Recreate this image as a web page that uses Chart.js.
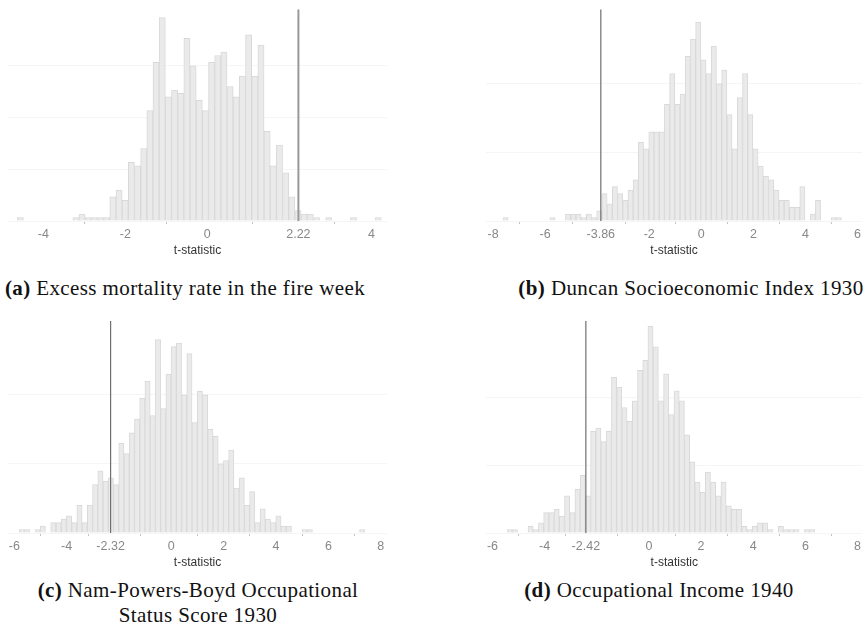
<!DOCTYPE html>
<html>
<head>
<meta charset="utf-8">
<script src="https://cdn.jsdelivr.net/npm/chart.js@4.4.1/dist/chart.umd.min.js"></script>
<style>
  body { margin: 0; background: #fff; width: 864px; height: 626px; position: relative; overflow: hidden; }
  canvas { position: absolute; }
  .cap { position: absolute; transform: translateX(-50%); font-family: "Liberation Serif", "Times New Roman", serif;
         font-size: 21px; letter-spacing: 0.4px; line-height: 25px; color: #111; text-align: center; white-space: nowrap; }
</style>
</head>
<body>
<canvas id="ca" width="432" height="257" style="left:0;top:0"></canvas>
<canvas id="cb" width="432" height="257" style="left:432px;top:0"></canvas>
<canvas id="cc" width="432" height="257" style="left:0;top:312px"></canvas>
<canvas id="cd" width="432" height="257" style="left:432px;top:312px"></canvas>

<div class="cap" style="left:185px;top:276px"><b>(a)</b> Excess mortality rate in the fire week</div>
<div class="cap" style="left:691px;top:276px"><b>(b)</b> Duncan Socioeconomic Index 1930</div>
<div class="cap" style="left:198px;top:578px"><b>(c)</b> Nam-Powers-Boyd Occupational<br>Status Score 1930</div>
<div class="cap" style="left:659px;top:578px"><b>(d)</b> Occupational Income 1940</div>

<script>
// histogram bins: first bin edge, bin width, counts per bin
const startA = -4.634, widthA = 0.1504;
const countsA = [1,0,0,0,0,0,0,0,0,1,2,1,1,1,1,7,9,6,17,16,21,32,46,59,36,38,37,53,45,35,
                 32,46,48,49,39,36,42,54,42,51,26,16,22,14,7,3,2,2,1,0,1,0,0,0,1,0,0,0,1];
const ticksA = [-4, -2, 0, 2.22, 4];
const tStatA = 2.22;

const startB = -7.618, widthB = 0.2;
const countsB = [1,0,0,0,0,0,0,0,0,1,0,0,2,2,2,1,2,1,3,8,5,10,8,6,9,12,23,21,26,26,
                 26,34,43,34,37,48,53,58,47,43,51,40,44,31,21,36,43,31,21,16,13,12,9,6,6,4,4,10,0,2,
                 6,0,0,1,1];
const ticksB = [-8, -6, -3.86, -2, 0, 2, 4, 6];
const tStatB = -3.86;

const startC = -5.809, widthC = 0.2;
const countsC = [1,1,0,1,2,0,3,3,4,5,3,8,3,8,14,18,15,16,14,26,23,29,33,39,44,34,56,36,46,54,
                 55,40,52,32,41,40,30,28,20,21,24,13,16,8,12,3,7,4,3,5,2,2,0,0,1,1,0,0,0,0,
                 0,0,0,0,0,1];
const ticksC = [-6, -4, -2.32, 0, 2, 4, 6, 8];
const tStatC = -2.32;

const startD = -5.439, widthD = 0.2;
const countsD = [1,1,0,0,2,1,3,6,6,7,5,11,6,13,17,11,30,31,27,30,46,43,37,33,39,48,51,61,55,39,
                 47,35,42,39,29,21,15,12,18,15,11,15,8,7,7,2,1,2,3,3,1,0,2,1,1,1,0,1,1];
const ticksD = [-6, -4, -2.42, 0, 2, 4, 6, 8];
const tStatD = -2.42;

Chart.defaults.font.family = '"Liberation Sans", Arial, sans-serif';
Chart.defaults.animation = false;

function histogram(id, start, width, counts, tickVals, tStat, xMin, xMax, yMax, yStep, pad, lineColor, lineWidth) {
    let bars = counts.map((c, i) => ({ x: start + (i + 0.5) * width, y: c > 0 ? c : null }));
    new Chart(document.getElementById(id), {
        type: "bar",
        data: {
            datasets: [{
                type: "line",
                data: [{ x: tStat, y: 0 }, { x: tStat, y: yMax }],
                borderColor: lineColor,
                borderWidth: lineWidth,
                pointRadius: 0,
                order: 0
            }, {
                data: bars,
                backgroundColor: "#eaeaea",
                borderColor: "#d9d9d9",
                borderWidth: 1,
                barPercentage: 1,
                categoryPercentage: 1,
                order: 1
            }]
        },
        options: {
            responsive: false,
            layout: { padding: pad },
            plugins: { legend: { display: false }, tooltip: { enabled: false } },
            scales: {
                x: {
                    type: "linear",
                    min: xMin,
                    max: xMax,
                    offset: false,
                    afterBuildTicks: ax => { ax.ticks = tickVals.map(v => ({ value: v })); },
                    ticks: { autoSkip: false, maxRotation: 0, padding: 3, color: "#888",
                             font: { size: 12.5 }, callback: v => String(v) },
                    grid: { drawOnChartArea: false, drawTicks: true, tickLength: 3, color: "#c4c4c4" },
                    border: { display: false },
                    title: { display: true, text: "t-statistic", color: "#333",
                             font: { size: 12, lineHeight: 1 }, padding: { top: 0, bottom: 0 } }
                },
                y: {
                    min: 0,
                    max: yMax,
                    afterBuildTicks: ax => { ax.ticks = ax.ticks.filter(t => t.value % yStep === 0); },
                    ticks: { display: false, stepSize: yStep },
                    grid: { color: "#f5f5f5", drawTicks: false },
                    border: { display: false }
                }
            }
        }
    });
}

histogram("ca", startA, widthA, countsA, ticksA, tStatA, -4.86, 4.38, 61.4, 15,
          { left: 8, right: 45, top: 9.3 }, "#999", 2);
histogram("cb", startB, widthB, countsB, ticksB, tStatB, -8.27, 6.17, 61.7, 20,
          { left: 54, right: 0, top: 9.3 }, "#707070", 1.2);
histogram("cc", startC, widthC, countsC, ticksC, tStatC, -6.24, 8.24, 61.4, 20,
          { left: 8, right: 45, top: 9 }, "#707070", 1.2);
histogram("cd", startD, widthD, countsD, ticksD, tStatD, -6.25, 8.19, 62.6, 20,
          { left: 54, right: 0, top: 9 }, "#707070", 1.2);
</script>
</body>
</html>
